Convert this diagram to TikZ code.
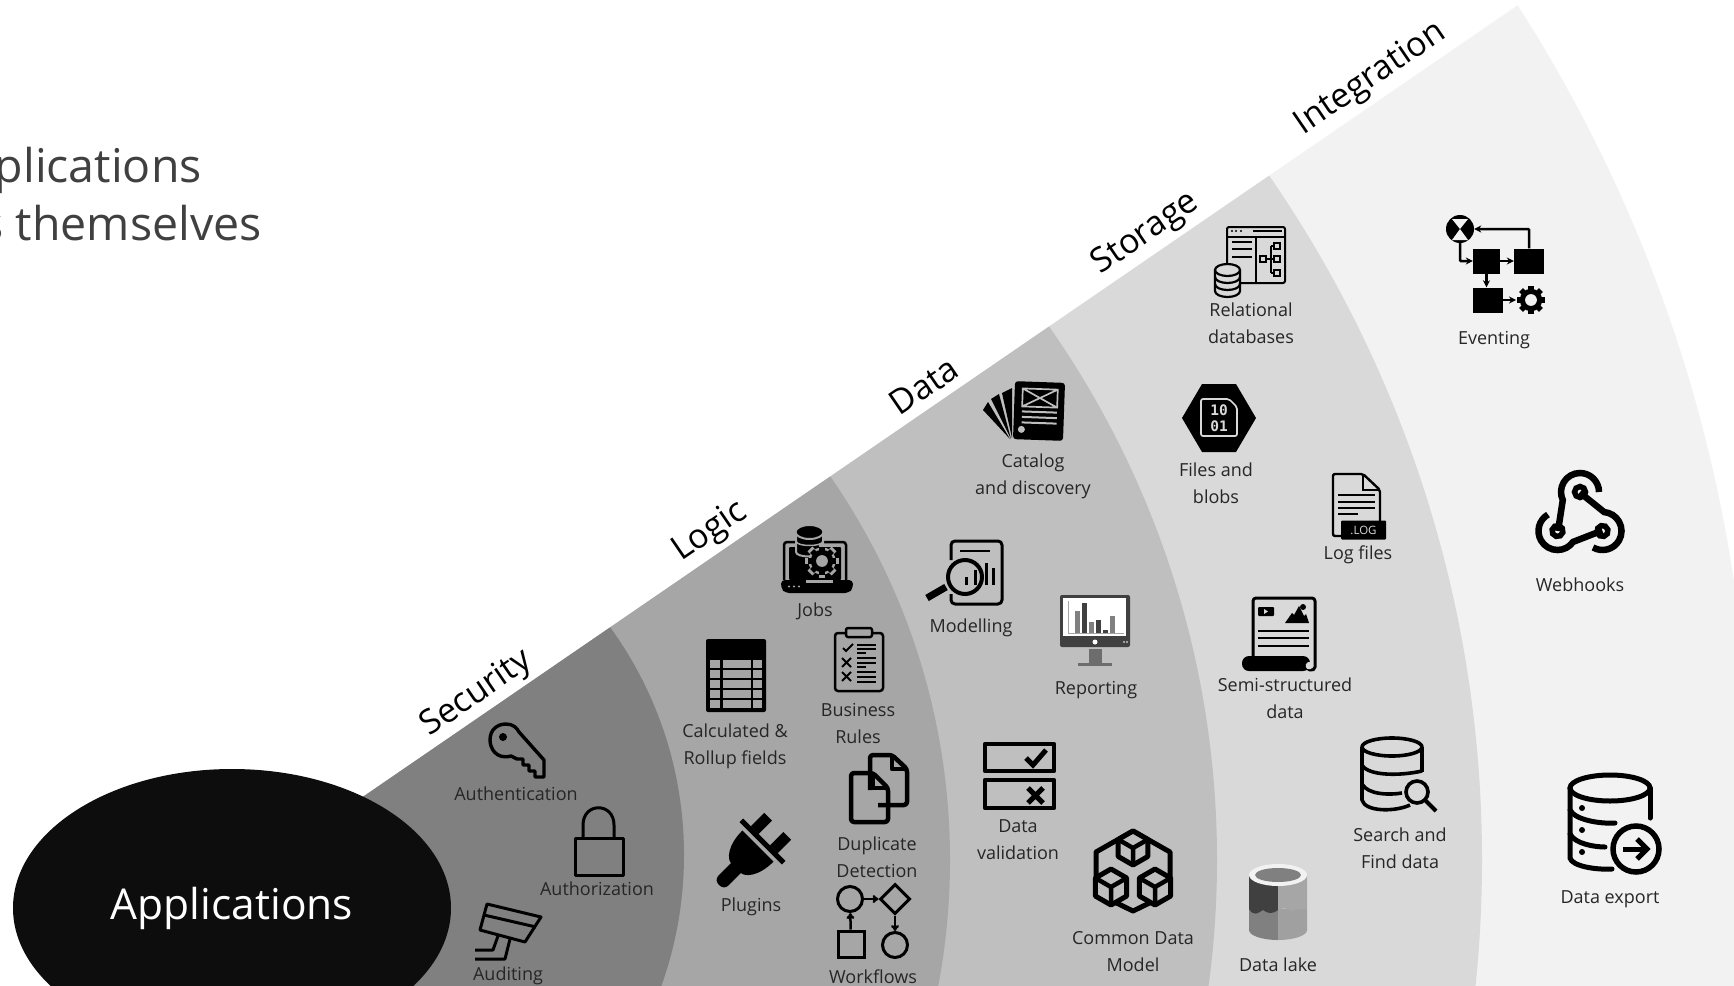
\documentclass[tikz,border=0pt]{standalone}
\usepackage{fontspec}
\usetikzlibrary{arrows.meta,shapes.geometric,calc}
\setmainfont{Open Sans}
\newfontfamily\monofam{DejaVu Sans Mono}
\definecolor{secC}{HTML}{808080}
\definecolor{logC}{HTML}{A6A6A6}
\definecolor{datC}{HTML}{BFBFBF}
\definecolor{stoC}{HTML}{D9D9D9}
\definecolor{intC}{HTML}{F2F2F2}
\definecolor{appC}{HTML}{0D0D0D}
\definecolor{lblC}{HTML}{262626}
\definecolor{topC}{HTML}{404040}
\tikzset{
  lbl/.style={font=\fontsize{18}{27}\selectfont,text=lblC,align=center,inner sep=0pt,anchor=center},
  hdr/.style={font=\fontsize{34}{38}\selectfont,text=black,inner sep=0pt,rotate=34.4,anchor=center},
  toptxt/.style={font=\fontsize{46.5}{52}\selectfont,text=topC,inner sep=0pt,anchor=base east},
  ic/.style={line width=3pt,draw=black,line join=round},
  ict/.style={line width=2pt,draw=black,line join=round},
  ick/.style={line width=4.5pt,draw=black,line join=round},
  flow/.style={fill=black,inner sep=0pt},
  arr/.style={line width=2.5pt,-{Stealth[length=7pt,width=7pt]}},
  wf/.style={draw=black,line width=3pt,inner sep=0pt}
}
\newcommand\gearic[5]{% x y r fill hole
  \begin{scope}[shift={(#1,#2)}]
  \fill[#4] (0,0) circle[radius=0.8*#3 pt];
  \foreach \a in {0,45,90,135}{\fill[#4,rotate=\a] (-0.2*#3,-#3) rectangle (0.2*#3,#3);}
  \fill[#5] (0,0) circle[radius=0.42*#3 pt];
  \end{scope}}
\newcommand\cubeic[4]{% x y r fill
  \begin{scope}[shift={(#1,#2)}]
  \filldraw[ick,line width=5pt,fill=#4] (0,-#3)--(0.87*#3,-0.5*#3)--(0.87*#3,0.5*#3)--(0,#3)--(-0.87*#3,0.5*#3)--(-0.87*#3,-0.5*#3)--cycle;
  \draw[ick,line width=4.5pt] (0,#3)--(0,0)--(0.87*#3,-0.5*#3) (0,0)--(-0.87*#3,-0.5*#3);
  \end{scope}}
\newcommand\cylbands[7]{% cx yc rx ry h lw fill
  \begin{scope}[shift={(#1,#2)}]
  \filldraw[draw=black,line width=#6 pt,fill=#7] (-#3,0)--(-#3,#5) arc[start angle=180,end angle=360,x radius=#3 pt,y radius=#4 pt]--(#3,0);
  \filldraw[draw=black,line width=#6 pt,fill=#7] (0,0) ellipse[x radius=#3 pt,y radius=#4 pt];
  \draw[line width=#6 pt] (-#3,#5/3) arc[start angle=180,end angle=360,x radius=#3 pt,y radius=#4 pt];
  \draw[line width=#6 pt] (-#3,2*#5/3) arc[start angle=180,end angle=360,x radius=#3 pt,y radius=#4 pt];
  \end{scope}}
\begin{document}
\begin{tikzpicture}[x=1pt,y=-1pt]
\useasboundingbox (0,0) rectangle (1734,985);
\fill[white] (0,0) rectangle (1734,985);
% wedge
\begin{scope}
\clip (300,840)--(1734,-143)--(1800,-143)--(1800,1100)--(300,1100)--cycle;
\fill[intC] (276,800) circle[radius=1474pt];
\fill[stoC] (276,860) circle[radius=1206pt];
\fill[datC] (286,860) circle[radius=931pt];
\fill[logC] (276,860) circle[radius=674pt];
\fill[secC] (296,855) circle[radius=388pt];
\end{scope}
\node[ellipse,fill=appC,minimum width=438pt,minimum height=278pt,inner sep=0pt,text=white,font=\fontsize{42.5}{46}\selectfont] (apps) at (232,908) {Applications};
% top text
\node[toptxt] (t1) at (202,182) {plications};
\node[toptxt] (t2) at (262,240) {s themselves};
% headers
\node[hdr] (hSec) at (477,694) {Security};
\node[hdr] (hLog) at (710,532) {Logic};
\node[hdr] (hDat) at (924,386) {Data};
\node[hdr] (hSto) at (1146,234) {Storage};
\node[hdr] (hInt) at (1371,79) {Integration};
% labels
\node[lbl] (l1) at (516,794) {Authentication};
\node[lbl] (l2) at (597,889) {Authorization};
\node[lbl] (l3) at (508,976) {Auditing};
\node[lbl] (l4) at (815,611) {Jobs};
\node[lbl] (l5) at (735,746) {Calculated \&\\Rollup fields};
\node[lbl] (l6) at (858,723) {Business\\Rules};
\node[lbl] (l7) at (751,907) {Plugins};
\node[lbl] (l8) at (877,857) {Duplicate\\Detection};
\node[lbl] (l9) at (873,977) {Workflows};
\node[lbl] (l10) at (971,628) {Modelling};
\node[lbl] (l11) at (1096,690) {Reporting};
\node[lbl] (l12) at (1033,476) {Catalog\\and discovery};
\node[lbl] (l13) at (1018,840) {Data\\validation};
\node[lbl] (l14) at (1133,952) {Common Data\\Model};
\node[lbl] (l15) at (1251,323) {Relational\\databases};
\node[lbl] (l16) at (1216,483) {Files and\\blobs};
\node[lbl] (l17) at (1358,555) {Log files};
\node[lbl] (l18) at (1285,698) {Semi-structured\\data};
\node[lbl] (l19) at (1400,848) {Search and\\Find data};
\node[lbl] (l20) at (1278,965) {Data lake};
\node[lbl] (l21) at (1494,340) {Eventing};
\node[lbl] (l22) at (1580,585) {Webhooks};
\node[lbl] (l23) at (1610,899) {Data export};
% --- key
\draw[ic,line width=3.4pt] (519,732) -- (544,760) -- (544,777) -- (535,777) -- (535,771) -- (529,771) -- (529,765) -- (523,765) -- (523,759) -- (517,759)
  -- (511,756) .. controls (496,760) and (490,748) .. (490,740) .. controls (490,729) and (498,724) .. (506,724) .. controls (513,724) and (517,728) .. (519,732) -- cycle;
\fill (503,737) circle[radius=4pt];
% --- lock
\draw[ic] (575,838) rectangle (623,875);
\draw[ic] (583,838) -- (583,825) .. controls (583,802) and (614,802) .. (614,825) -- (614,838);
% --- camera
\draw[ic] (487,904) -- (541,917) -- (525,942) -- (480,930) -- cycle;
\draw[ic] (484,915) -- (536,927);
\draw[ic] (475,950) -- (493,950) -- (498,936);
\draw[ic] (475,959) -- (505,959) -- (510,939);
% --- jobs
\draw[line width=2.5pt,rounded corners=3pt] (784,580) -- (784,542) -- (846,542) -- (846,580);
\fill[rounded corners=1pt] (789,547) rectangle (841,580);
\fill[rounded corners=4pt] (781,580) -- (853,580) -- (853,588) -- (849,593) -- (785,593) -- (781,588) -- cycle;
\fill[logC] (806,580) rectangle (833,583);
\foreach \xx in {789,794,799}{\fill[logC] (\xx,586.5) circle[radius=1.1pt];}
\filldraw[draw=logC,line width=2pt,fill=black] (796,532) -- (796,552) .. controls (796,558) and (823,558) .. (823,552) -- (823,532) -- cycle;
\filldraw[draw=logC,line width=2pt,fill=black] (809.5,532) ellipse[x radius=14pt,y radius=7pt];
\draw[logC,line width=1.5pt] (796,541) .. controls (796,547) and (823,547) .. (823,541);
\gearic{822}{561}{17}{logC}{logC}
\gearic{822}{561}{14}{black}{logC}
% --- table
\fill[rounded corners=2pt] (706,639) rectangle (766,712);
\foreach \yy in {660,670,680,690,700}{
 \fill[logC] (710,\yy) rectangle (720,\yy+7.5);
 \fill[logC] (722.5,\yy) rectangle (750.5,\yy+7.5);
 \fill[logC] (753,\yy) rectangle (762,\yy+7.5);}
% --- checklist
\draw[ic,line width=2.5pt,rounded corners=3pt] (835,633) rectangle (883,691);
\filldraw[ic,line width=2.5pt,fill=logC,rounded corners=2pt] (846,628) rectangle (872,637);
\draw[line width=2pt] (843,648) -- (846,651) -- (853,644);
\draw[line width=2pt] (842,658) -- (851,667) (851,658) -- (842,667);
\draw[line width=2pt] (842,672) -- (851,681) (851,672) -- (842,681);
\foreach \yy/\xe in {645/876,649/876,653/866,658/876,663/876,667/866,672/876,677/876,682/876}{\draw[line width=1.5pt] (857,\yy) -- (\xe,\yy);}
% --- duplicate
\draw[ick,rounded corners=3pt] (878,805) -- (907,805) -- (907,769) -- (892,755) -- (870,755) -- (870,790);
\draw[ick] (892,755) -- (892,769) -- (907,769);
\filldraw[ick,fill=none,rounded corners=3pt] (851,786) -- (851,822) -- (888,822) -- (888,788) -- (873,773) -- (851,773) -- cycle;
\draw[ick] (873,773) -- (873,788) -- (888,788);
% --- plug
\begin{scope}[shift={(748,856)},rotate=-45]
\fill (-22,-14) -- (22,-14) .. controls (22,8) and (12,17) .. (7,17) -- (7,35) .. controls (7,43) and (-7,43) .. (-7,35) -- (-7,17) .. controls (-12,17) and (-22,8) .. (-22,-14) -- cycle;
\fill (-30,-23) rectangle (30,-18);
\fill (-19,-42) rectangle (-8,-23);
\fill (8,-42) rectangle (19,-23);
\end{scope}
% --- workflows
\node[wf,circle,minimum size=25pt] (wa) at (850,899) {};
\node[wf,diamond,minimum size=30pt] (wb) at (895,899) {};
\node[wf,minimum size=26pt] (wc) at (851,944) {};
\node[wf,circle,minimum size=25pt] (wd) at (895,945) {};
\draw[line width=2.5pt,-{To[length=6pt,width=8pt]}] (wa) -- (wb);
\draw[line width=2.5pt,-{To[length=6pt,width=8pt]}] (wc) -- (wa);
\draw[line width=2.5pt,-{To[length=6pt,width=8pt]}] (wb) -- (wd);
% --- modelling
\draw[ic,rounded corners=4pt] (951,560) -- (951,541) -- (1002,541) -- (1002,604) -- (951,604) -- (951,594);
\draw[line width=2.5pt] (960,551) -- (990,551);
\draw[line width=4pt] (965,577) circle[radius=17pt];
\draw[line width=7pt] (927,598) -- (946,587);
\foreach \xx/\yy in {966/577,975/570,986/563,993/568}{\draw[line width=3pt] (\xx,\yy) -- (\xx,585);}
% --- reporting
\fill[rounded corners=2pt,fill=topC] (1060,595) rectangle (1130,647);
\fill[white] (1063,598) rectangle (1126,636);
\fill[white] (1095,642) circle[radius=2.5pt];
\fill[white] (1124,642) circle[radius=.8pt] (1127,642) circle[radius=.8pt];
\fill[secC!85!black] (1089,649) rectangle (1102,663);
\fill[secC!85!black] (1078,663) rectangle (1112,665.5);
\draw[gray!70,line width=1pt] (1068,601) -- (1068,633) -- (1124,633);
\foreach \xx/\yy/\c in {1077/611/secC,1084/603/topC,1091/622/secC,1098/620/topC,1105/630/topC,1112/616/secC}{\fill[\c] (\xx-2.5,\yy) rectangle (\xx+2.5,633);}
% --- catalog
\begin{scope}[shift={(1039,411)},rotate=-2]
\fill[rounded corners=3pt] (-25,-29) rectangle (25,29);
\draw[datC,line width=1.7pt] (-17,-22) rectangle (18,-4) (-17,-22) -- (18,-4) (18,-22) -- (-17,-4);
\foreach \yy in {1,6.5,12}{\draw[datC,line width=2pt] (-17,\yy) -- (18,\yy);}
\fill[datC] (-17,19) circle[radius=3.5pt];
\end{scope}
\fill (1012,388) -- (1002,393) -- (1012,438) -- cycle;
\fill (999,394) -- (991,399) -- (1011,439) -- cycle;
\fill (988,402) -- (983,410) -- (1010,439) -- cycle;
% --- validation
\draw[ick,line width=4.5pt] (985,744) rectangle (1054,771);
\draw[ick,line width=4.5pt] (985,780) rectangle (1054,808);
\draw[line width=5pt] (1026,758) -- (1033,765) -- (1046,750);
\draw[line width=5pt] (1028,788) -- (1043,803) (1043,788) -- (1028,803);
% --- common data model
\draw[ick,line width=5pt] (1133,831) -- (1170,852) -- (1170,893) -- (1133,911) -- (1096,893) -- (1096,852) -- cycle;
\cubeic{1133}{848}{17}{datC}
\cubeic{1111}{887}{18}{datC}
\cubeic{1155}{887}{18}{datC}
% --- relational
\draw[ict,rounded corners=2pt] (1227,227) rectangle (1285,283);
\draw[ict] (1227,237) -- (1285,237) (1256,237) -- (1256,283);
\foreach \xx in {1232,1236,1241}{\fill (\xx,231) circle[radius=1.2pt];}
\draw[ict] (1253,231) -- (1282,231);
\foreach \yy in {242,249,257}{\draw[ict] (1232,\yy) -- (1252,\yy);}
\foreach \xx/\yy in {1263/259,1277/246,1277/259,1277/273}{\draw[line width=1.7pt] (\xx-3,\yy-3) rectangle (\xx+3,\yy+3);}
\draw[line width=1.7pt] (1266,259) -- (1274,259) (1271,246) -- (1271,273) (1271,246) -- (1274,246) (1271,273) -- (1274,273);
\cylbands{1227.5}{270}{12.5}{6}{21}{2.2}{stoC}
% --- files
\fill (1182,418) -- (1202,384) -- (1236,384) -- (1256,418) -- (1236,452) -- (1202,452) -- cycle;
\draw[stoC,line width=1.7pt,rounded corners=2pt] (1201,399) -- (1229,399) -- (1237,407) -- (1237,436) -- (1201,436) -- cycle;
\node[font=\monofam\bfseries\fontsize{14.5}{16}\selectfont,text=stoC,inner sep=0pt,align=center] (bits) at (1219,418) {10\\01};
% --- log
\draw[ic,line width=2.4pt,rounded corners=2pt] (1341,536) -- (1333,536) -- (1333,474) -- (1363,474) -- (1380,490) -- (1380,522);
\draw[line width=2.2pt] (1363,474) -- (1363,490) -- (1380,490);
\foreach \yy/\xe in {495/1375,502/1375,508/1375,514/1358}{\draw[line width=2pt] (1338,\yy) -- (\xe,\yy);}
\node[fill=black,text=stoC,font=\fontsize{11.5}{12}\selectfont,minimum width=45pt,minimum height=19pt,inner sep=0pt,rounded corners=1pt] (logtag) at (1363.5,530) {.LOG};
% --- semi-structured
\draw[ic,rounded corners=3pt] (1253,662) -- (1253,598) -- (1315,598) -- (1315,664) .. controls (1315,672) and (1305,671) .. (1305,664);
\fill[rounded corners=7pt] (1242,656) rectangle (1310,671);
\fill[stoC] (1308,662) .. controls (1304,664) and (1305,671) .. (1311,669) -- (1313,662) -- cycle;
\fill[rounded corners=1pt] (1258,607) rectangle (1274,616);
\fill[stoC] (1264,609) -- (1264,614) -- (1268,611.5) -- cycle;
\fill (1285,623) -- (1292,613) -- (1294,615) -- (1299,606) -- (1304,616) -- (1306,614) -- (1309,623) -- cycle;
\fill (1303,607) circle[radius=3pt];
\foreach \yy in {631,638,646}{\draw[line width=1.8pt] (1258,\yy) -- (1309,\yy);}
% --- search
\draw[ick,line width=3.6pt] (1392,747) ellipse[x radius=30pt,y radius=9pt];
\draw[ick,line width=3.6pt] (1362,747) -- (1362,800) .. controls (1365,812) and (1395,812) .. (1410,805);
\draw[ick,line width=3.6pt] (1422,747) -- (1422,772);
\draw[ick,line width=3.6pt] (1362,765) .. controls (1368,776) and (1400,776) .. (1422,771);
\draw[ick,line width=3.6pt] (1362,784) .. controls (1368,795) and (1390,795) .. (1402,793);
\filldraw[draw=black,line width=3.6pt,fill=stoC] (1417,792) circle[radius=11pt];
\draw[line width=4pt] (1425,800) -- (1436,811);
% --- data lake
\begin{scope}[shift={(1278,875)}]
\fill[secC] (-29,34) -- (-29,55) arc[start angle=180,end angle=270,x radius=29pt,y radius=10pt] -- (0,34) -- cycle;
\fill[logC!85!secC] (0,34) -- (0,65) arc[start angle=270,end angle=360,x radius=29pt,y radius=10pt] -- (29,34) -- cycle;
\fill[topC] (-29,0) -- (-29,34) .. controls (-24,42) and (-20,38) .. (-15,35) .. controls (-10,39) and (-5,39) .. (0,35) -- (0,0) -- cycle;
\fill[logC] (0,0) -- (0,35) .. controls (6,32) and (9,34) .. (14,36) .. controls (20,32) and (25,36) .. (29,34) -- (29,0) -- cycle;
\fill[intC] (0,0) ellipse[x radius=29pt,y radius=11pt];
\fill[secC] (0,0) ellipse[x radius=23pt,y radius=7pt];
\end{scope}
% --- eventing
\node[circle,fill=black,minimum size=28pt,inner sep=0pt] (e0) at (1460,229) {};
\fill[intC] (1460,229) -- (1452,219) -- (1468,219) -- cycle;
\fill[intC] (1460,229) -- (1452,240) -- (1468,240) -- cycle;
\node[flow,minimum width=27pt,minimum height=25pt] (e1) at (1486.5,261) {};
\node[flow,minimum width=30pt,minimum height=25pt] (e2) at (1529,261) {};
\node[flow,minimum width=30pt,minimum height=25pt] (e3) at (1488,300) {};
\gearic{1531}{300}{14}{black}{intC}
\coordinate (egear) at (1516,300);
\draw[arr,rounded corners=1pt] (e2.north) -- (e2.north |- e0) -- (e0);
\draw[arr,rounded corners=1pt] (e0.south) |- (e1.west);
\draw[arr] (e1) -- (e2);
\draw[arr] (e1.south) -- (e1.south |- e3.north);
\draw[arr] (e3) -- (egear);
% --- webhooks
\foreach \r in {0,120,240}{
\begin{scope}[shift={(1580,518)},rotate=\r]
\draw[line width=5.5pt] (0,-26) circle[radius=5.5pt];
\draw[line width=6.5pt] (19,-26) arc[start angle=0,end angle=205,radius=19pt] -- (-22,13);
\end{scope}}
% --- data export
\draw[line width=5pt,line cap=round] (1610,788) ellipse[x radius=40pt,y radius=13pt];
\draw[line width=5pt,line cap=round] (1570,788) -- (1570,858) .. controls (1572,866) and (1595,870) .. (1612,869);
\draw[line width=5pt,line cap=round] (1650,788) -- (1650,818);
\draw[line width=5pt,line cap=round] (1570,810) .. controls (1575,820) and (1600,824) .. (1615,823);
\draw[line width=5pt,line cap=round] (1570,834) .. controls (1575,844) and (1595,847) .. (1605,847);
\fill (1582,808) circle[radius=3pt] (1582,830) circle[radius=3pt] (1582,852) circle[radius=3pt];
\draw[line width=5.5pt] (1636,849) circle[radius=23pt];
\draw[line width=5pt] (1623,849) -- (1647,849);
\draw[line width=5pt] (1637,839) -- (1647,849) -- (1637,859);
\end{tikzpicture}
\end{document}
